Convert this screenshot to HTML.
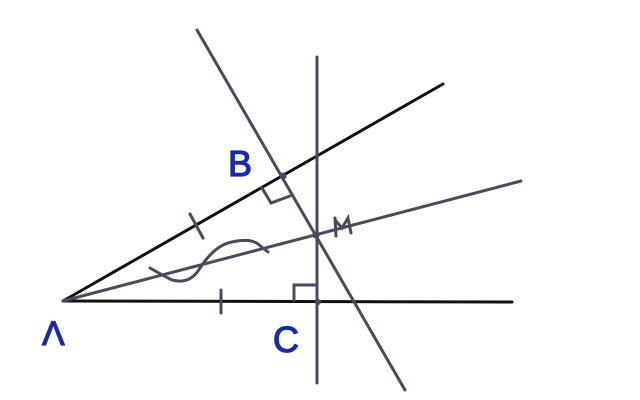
<!DOCTYPE html>
<html><head><style>body{margin:0;background:#fff}</style></head><body>
<svg width="640" height="400" xmlns="http://www.w3.org/2000/svg" style="display:block">
<rect width="640" height="400" fill="#fff"/>
<g stroke-linecap="round" fill="none">
<line x1="63" y1="301" x2="443" y2="84" stroke="#111" stroke-width="3"/>
<line x1="63" y1="301" x2="512" y2="302" stroke="#111" stroke-width="3"/>
<line x1="63" y1="301" x2="521" y2="181" stroke="#4a4a5c" stroke-width="3"/>
<line x1="317" y1="57" x2="317" y2="383" stroke="#4a4a5c" stroke-width="3"/>
<line x1="197" y1="30" x2="405" y2="390" stroke="#4a4a5c" stroke-width="3"/>
<path d="M150 268 Q162 275 172 280 Q190 285 200 268 Q215 245 232 242 Q250 238 258 244 L268 252" stroke="#4a4a5c" stroke-width="3"/>
<path d="M262 188 L271 203 L290 196" stroke="#4a4a5c" stroke-width="3"/>
<path d="M294 300 L294 285 L317 285" stroke="#4a4a5c" stroke-width="3"/>
<line x1="190" y1="214" x2="203" y2="238" stroke="#4a4a5c" stroke-width="3"/>
<line x1="221" y1="290" x2="221" y2="313" stroke="#4a4a5c" stroke-width="3"/>
<line x1="335" y1="218" x2="336" y2="236" stroke="#4a4a5c" stroke-width="3"/>
<path d="M335 220 L342 228 L348 218 L351 233" stroke="#4a4a5c" stroke-width="3"/>
</g>
<circle cx="283" cy="176" r="3.5" fill="#4a4a5c"/>
<circle cx="316" cy="235" r="3.5" fill="#4a4a5c"/>
<circle cx="318" cy="302" r="3" fill="#4a4a5c"/>
<g font-family="Liberation Sans, sans-serif" fill="#1a2aa6" stroke="#1a2aa6" stroke-width="1.2" font-size="36">
<text x="228" y="176">B</text>
<text x="273" y="352">C</text>
<text x="42" y="345" font-size="34">Λ</text>
</g>
</svg>
</body></html>
